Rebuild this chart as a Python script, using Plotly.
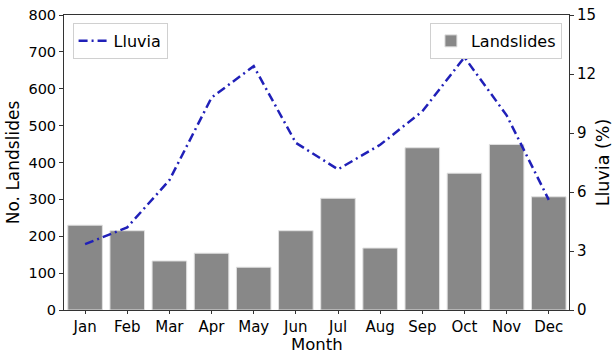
import plotly.graph_objects as go

months = ["Jan", "Feb", "Mar", "Apr", "May", "Jun", "Jul", "Aug", "Sep", "Oct", "Nov", "Dec"]
landslides = [230, 215, 133, 154, 116, 215, 303, 168, 440, 371, 449, 307]
lluvia = [3.35, 4.2, 6.6, 10.8, 12.4, 8.5, 7.15, 8.4, 10.1, 12.85, 9.9, 5.6]

left_ticks = [0, 100, 200, 300, 400, 500, 600, 700, 800]
right_ticks = [0, 3, 6, 9, 12, 15]

font = "DejaVu Sans"
x = list(range(len(months)))

fig = go.Figure()
fig.add_trace(go.Bar(
    x=x, y=landslides, name="Landslides", width=0.82,
    marker=dict(color="#888888", line=dict(color="#e0e0e0", width=1)),
    yaxis="y", legend="legend2", showlegend=True,
))
fig.add_trace(go.Scatter(
    x=x, y=lluvia, name="Lluvia", mode="lines",
    line=dict(color="#2020b8", width=2.5, dash="9px,4px,2px,4px"),
    yaxis="y2", legend="legend", showlegend=True,
))

line_color = "#333333"
fig.update_layout(
    width=613, height=354,
    margin=dict(l=64, r=44, t=15, b=44),
    paper_bgcolor="white", plot_bgcolor="white",
    font=dict(family=font, color="black"),
    showlegend=True,
    xaxis=dict(
        tickmode="array", tickvals=x, ticktext=months,
        range=[-0.5, 11.48], automargin=False,
        showline=True, linecolor=line_color, linewidth=1, mirror=True,
        ticks="outside", ticklen=3, tickcolor=line_color,
        tickfont=dict(family=font, size=15, color="black"),
        showgrid=False, zeroline=False,
    ),
    yaxis=dict(
        range=[0, 800], tickvals=left_ticks, automargin=False,
        showline=True, linecolor=line_color, linewidth=1,
        ticks="outside", ticklen=4, tickcolor=line_color,
        tickfont=dict(family=font, size=14.5, color="black"),
        showgrid=False, zeroline=False,
        title=dict(text="No. Landslides", font=dict(family=font, size=17), standoff=4),
    ),
    yaxis2=dict(
        range=[0, 15], tickvals=right_ticks, overlaying="y", side="right",
        automargin=False,
        showline=True, linecolor=line_color, linewidth=1,
        ticks="outside", ticklen=4, tickcolor=line_color,
        tickfont=dict(family=font, size=15, color="black"),
        showgrid=False, zeroline=False,
        title=dict(text="Lluvia (%)", font=dict(family=font, size=17.5), standoff=4),
    ),
    legend=dict(
        x=0.017, y=0.973, xanchor="left", yanchor="top",
        bgcolor="white", bordercolor="#d0d0d0", borderwidth=1,
        font=dict(family=font, size=16),
    ),
    legend2=dict(
        x=0.986, y=0.973, xanchor="right", yanchor="top",
        bgcolor="white", bordercolor="#d0d0d0", borderwidth=1,
        font=dict(family=font, size=16),
    ),
    annotations=[dict(
        text="Month", xref="paper", yref="paper", x=0.5, y=-0.117,
        xanchor="center", yanchor="middle", showarrow=False, borderpad=0,
        font=dict(family=font, size=16.5, color="black"),
    )],
)

fig.write_html("out.html")
